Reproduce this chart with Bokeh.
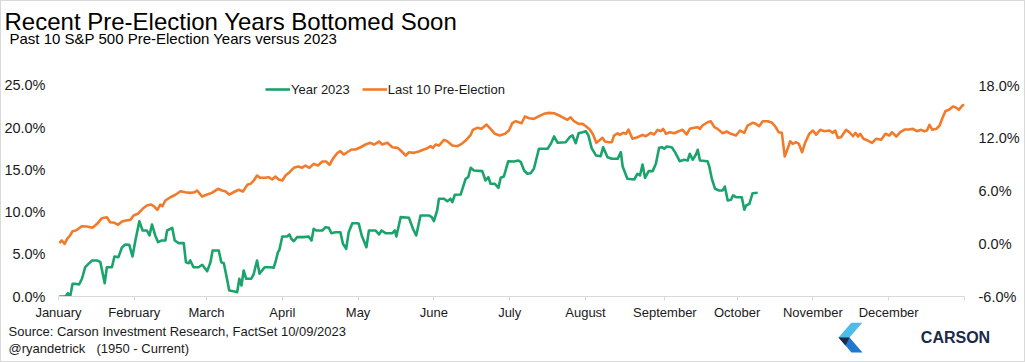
from bokeh.plotting import figure
from bokeh.layouts import column
from bokeh.models import (Range1d, LinearAxis, FixedTicker, PrintfTickFormatter,
                          Legend, LegendItem, Label)
from bokeh.embed import file_html
from bokeh.resources import INLINE

# ---------------- data ----------------
months = ["January", "February", "March", "April", "May", "June", "July",
          "August", "September", "October", "November", "December"]
month_start_day = [0, 21, 41, 62, 83, 104, 125, 146, 168, 188, 209, 230]
year_end_day = 251
left_ticks = [0, 5, 10, 15, 20, 25]
right_ticks = [-6, 0, 6, 12, 18]

# Year 2023 (left axis, %), x = trading day of year
y2023_day = [0.2, 1.9, 2.6, 3.2, 3.9, 4.6, 5.7, 6.5, 7.4, 8.3, 9.3, 10.7, 11.6, 12.8, 13.4, 14.8,
             15.5, 16.6, 17.6, 18.5, 19.6, 20.5, 21.3, 22.4, 23.3, 24.5, 25.2, 25.9, 26.8, 27.6,
             28.5, 29.6, 30.1, 31.5, 32.2, 33.3, 34.7, 35.3, 36.1, 36.5, 37.4, 38.8, 39.8, 41.2,
             42.1, 42.7, 44.4, 45.1, 45.8, 46.4, 47.3, 48.5, 49.5, 50.1, 50.7, 51.3, 52.0, 53.4,
             54.1, 55.0, 55.7, 56.4, 57.1, 58.7, 59.6, 60.1, 60.8, 61.2, 62.0, 63.3, 64.0, 64.5,
             65.2, 66.1, 67.9, 69.3, 70.1, 70.7, 71.4, 73.1, 74.0, 74.9, 75.6, 76.7, 78.1, 78.8,
             79.7, 80.4, 81.4, 82.8, 83.2, 84.0, 85.3, 86.0, 87.8, 88.8, 89.5, 90.6, 92.5, 93.2,
             93.6, 94.8, 97.1, 98.2, 99.1, 100.3, 102.6, 103.4, 104.0, 104.9, 105.4, 106.8, 107.7,
             108.6, 109.1, 109.8, 111.4, 112.0, 112.8, 113.5, 114.2, 115.1, 117.4, 118.3, 119.1,
             119.7, 120.9, 121.9, 122.5, 123.4, 124.6, 126.2, 127.4, 128.1, 129.0, 129.9, 130.8,
             131.7, 133.1, 135.5, 136.4, 137.3, 138.3, 140.5, 141.6, 142.4, 143.3, 144.1, 145.2,
             146.1, 146.8, 147.7, 148.9, 150.2, 150.9, 152.1, 153.3, 154.9, 155.8, 156.3, 157.6,
             159.5, 160.4, 161.1, 161.8, 162.5, 163.5, 164.6, 165.5, 166.4, 167.2, 167.8, 168.5,
             169.9, 170.8, 172.1, 173.3, 174.3, 174.9, 175.7, 176.6, 177.1, 177.7, 179.8, 180.3,
             181.0, 181.9, 183.0, 184.0, 184.6, 185.4, 186.3, 186.9, 187.7, 189.3, 190.0, 190.5,
             191.4, 192.3, 193.7]
y2023_pct = [0.00, 0.00, 0.39, -0.08, 1.50, 1.50, 1.42, 2.10, 3.47, 3.87, 4.27, 4.27, 4.06, 1.58,
             3.47, 3.47, 4.74, 4.66, 5.84, 6.16, 6.13, 4.74, 6.63, 8.92, 7.82, 7.82, 7.23, 8.53,
             7.23, 6.43, 6.63, 6.63, 7.82, 8.14, 6.63, 6.32, 6.32, 4.06, 3.95, 4.27, 3.47, 3.47,
             3.76, 3.00, 4.06, 5.45, 5.45, 4.06, 3.95, 2.69, 0.71, 0.63, 0.51, 2.10, 1.30, 3.08,
             2.10, 2.10, 2.69, 4.27, 2.69, 3.08, 3.47, 3.47, 3.40, 4.06, 5.25, 5.53, 7.11, 7.11,
             7.35, 6.84, 6.55, 7.03, 7.03, 7.11, 6.63, 8.02, 7.82, 7.82, 8.21, 8.14, 7.50, 7.62,
             7.62, 6.24, 5.65, 7.62, 8.68, 8.68, 8.61, 7.23, 5.84, 7.82, 7.82, 7.35, 7.82, 7.50,
             7.50, 7.82, 7.11, 9.40, 9.32, 8.02, 7.23, 9.60, 9.60, 9.40, 8.92, 10.19, 11.58, 11.58,
             11.29, 11.58, 11.17, 12.05, 12.08, 12.88, 13.95, 14.13, 15.25, 14.93, 14.85, 13.74,
             14.13, 13.35, 13.35, 12.88, 14.06, 14.22, 16.03, 15.99, 16.11, 15.91, 14.93, 14.54,
             14.61, 15.13, 17.50, 17.50, 18.09, 18.96, 18.21, 18.28, 18.87, 19.08, 18.16, 19.35,
             19.47, 19.58, 19.08, 17.57, 16.71, 16.62, 17.69, 16.50, 16.31, 16.31, 17.10, 15.40,
             13.95, 13.86, 14.54, 14.34, 15.64, 14.06, 14.85, 14.85, 15.72, 17.62, 17.69, 17.50,
             17.77, 17.69, 17.10, 16.03, 16.20, 16.11, 16.91, 16.20, 16.82, 17.38, 16.11, 16.03,
             15.40, 13.95, 12.76, 12.56, 12.56, 13.03, 11.37, 11.46, 11.97, 11.76, 11.76, 10.27,
             10.78, 10.98, 12.24, 12.29]

# Last 10 pre-election years average (right axis, %)
pre_day = [0.2, 0.9, 1.7, 2.4, 3.2, 3.9, 4.8, 5.5, 6.5, 7.9, 9.4, 10.7, 12.0, 13.4, 14.3, 15.5,
           16.5, 17.6, 18.7, 19.9, 20.8, 22.0, 23.3, 24.5, 25.7, 26.5, 27.4, 28.2, 28.8, 29.6,
           31.0, 32.4, 33.8, 35.1, 36.5, 37.7, 38.4, 39.8, 41.2, 42.5, 44.2, 45.3, 46.2, 47.3,
           48.5, 49.9, 51.1, 52.3, 53.2, 54.1, 55.0, 55.9, 57.1, 58.2, 59.2, 60.1, 61.0, 62.0,
           62.9, 64.0, 65.2, 66.4, 67.5, 68.4, 69.5, 70.7, 71.9, 73.1, 74.2, 75.1, 76.0, 77.2,
           78.1, 79.0, 80.0, 81.2, 82.3, 83.7, 85.1, 86.4, 87.4, 88.8, 89.7, 91.1, 92.5, 93.9,
           94.8, 96.2, 97.1, 98.5, 99.8, 101.2, 102.2, 103.1, 103.7, 104.5, 105.4, 106.8, 107.7,
           109.1, 110.5, 111.7, 112.8, 114.2, 114.8, 116.0, 117.2, 118.6, 119.7, 120.9, 122.2,
           123.7, 124.8, 125.7, 126.7, 128.3, 129.2, 130.4, 131.7, 133.1, 134.5, 135.9, 137.3,
           138.7, 140.1, 141.0, 141.9, 142.8, 144.1, 145.2, 146.1, 147.2, 148.1, 149.0, 149.8,
           150.7, 151.4, 152.4, 153.3, 153.9, 154.9, 155.5, 156.4, 157.2, 157.9, 159.0, 160.4,
           161.8, 162.7, 164.1, 165.0, 166.0, 166.9, 167.5, 168.3, 169.4, 170.6, 171.8, 172.9,
           174.0, 174.9, 176.1, 177.1, 177.7, 178.4, 179.8, 180.7, 181.7, 182.6, 184.0, 185.1,
           186.3, 187.7, 188.8, 190.0, 190.9, 192.3, 193.2, 194.1, 195.1, 196.5, 197.7, 198.6,
           199.5, 200.4, 201.2, 202.0, 202.7, 203.4, 204.3, 205.1, 206.0, 206.9, 208.0, 209.0,
           209.9, 211.0, 212.2, 213.6, 214.5, 215.2, 215.9, 216.8, 218.2, 219.1, 220.1, 220.8,
           221.5, 222.1, 223.0, 224.2, 225.4, 226.5, 227.9, 229.1, 230.2, 230.9, 232.1, 233.2,
           234.4, 235.6, 236.7, 237.8, 239.0, 239.9, 240.6, 241.3, 242.1, 243.2, 244.1, 244.8,
           245.7, 246.8, 247.8, 248.5, 249.4, 250.4, 251.0]
pre_pct = [0.06, 0.37, -0.01, 0.56, 0.94, 1.43, 1.51, 1.70, 2.00, 1.96, 1.81, 2.27, 2.91, 3.02,
           2.45, 2.38, 2.16, 2.53, 2.64, 2.72, 3.21, 3.41, 3.98, 4.35, 4.46, 4.24, 3.86, 4.46,
           4.27, 4.92, 5.29, 5.57, 5.98, 5.86, 5.79, 5.86, 6.06, 5.37, 5.60, 5.79, 6.25, 6.06,
           5.98, 5.60, 5.86, 6.14, 5.94, 6.70, 6.82, 7.19, 7.76, 7.50, 7.50, 7.57, 7.31, 7.65,
           7.31, 7.19, 7.76, 8.14, 8.64, 8.79, 8.64, 8.90, 8.64, 9.09, 8.90, 9.35, 9.35, 8.98,
           9.66, 10.30, 10.53, 10.15, 10.41, 10.72, 10.72, 10.98, 11.29, 11.48, 11.29, 11.63,
           11.29, 11.48, 10.98, 10.91, 10.61, 10.04, 10.41, 10.34, 10.49, 10.72, 10.87, 11.10,
           10.91, 11.29, 11.17, 11.82, 11.66, 11.17, 11.10, 11.37, 11.74, 12.39, 12.96, 13.19,
           13.07, 13.56, 13.07, 12.51, 12.31, 12.51, 12.88, 13.71, 13.94, 13.71, 14.47, 14.28,
           14.21, 14.51, 14.78, 14.89, 14.85, 14.59, 14.28, 14.10, 14.39, 13.94, 13.64, 13.64,
           13.37, 12.99, 12.43, 11.48, 11.74, 12.05, 11.63, 11.55, 11.55, 12.31, 12.57, 12.39,
           12.62, 12.51, 12.99, 11.94, 12.12, 12.39, 12.23, 12.62, 12.43, 12.96, 12.80, 13.07,
           12.51, 12.69, 12.57, 12.80, 12.96, 12.43, 13.07, 13.19, 13.26, 13.07, 13.45, 13.82,
           13.94, 13.26, 13.07, 12.57, 12.77, 12.51, 12.31, 12.88, 12.62, 13.45, 13.76, 13.64,
           13.37, 13.94, 13.94, 13.76, 13.34, 12.69, 12.62, 9.92, 10.80, 11.66, 11.37, 11.55,
           11.37, 10.41, 11.55, 12.51, 12.88, 12.40, 12.96, 12.80, 12.88, 12.62, 12.88, 12.05,
           12.12, 12.96, 12.69, 12.23, 12.62, 12.20, 12.51, 11.94, 11.74, 11.48, 11.94, 11.82,
           12.51, 12.31, 12.69, 12.20, 12.69, 12.99, 12.99, 13.07, 12.80, 12.96, 12.80, 12.88,
           13.53, 12.96, 13.07, 13.45, 14.21, 15.08, 15.27, 15.61, 15.53, 15.24, 15.72, 15.80]

GREEN = "#1ba36c"
ORANGE = "#f27b2b"
TEXT = "#1a1a1a"
FONT = "Liberation Sans"
W = 1023          # inner width (a 1px light border surrounds the whole chart)


def blank_figure(h):
    f = figure(width=W, height=h, output_backend="svg", toolbar_location=None,
               x_range=Range1d(0, W), y_range=Range1d(0, h),
               x_axis_type=None, y_axis_type=None, min_border=0, frame_align=False,
               outline_line_color=None, background_fill_color="white",
               border_fill_color="white")
    f.xgrid.visible = False
    f.ygrid.visible = False
    return f


def add_text(f, text, x, y, size, color=TEXT, style="normal", align="left"):
    f.add_layout(Label(x=x, y=y, text=text, text_font=FONT, text_font_size=size,
                       text_color=color, text_font_style=style, text_align=align,
                       text_baseline="middle"))


# ---------------- header (titles) ----------------
HEAD_H = 59
head = blank_figure(HEAD_H)
add_text(head, "Recent Pre-Election Years Bottomed Soon", 3, 39, "24px", color="#000000")
add_text(head, "Past 10 S&P 500 Pre-Election Years versus 2023", 8, 22.5, "15px",
         color="#000000")

# ---------------- main chart ----------------
# frame spans 75..296 px; the extra 10 px above the top tick keep the legend inside the frame
p = figure(width=W, height=262, output_backend="svg", toolbar_location=None, title=None,
           x_range=Range1d(0, year_end_day), y_range=Range1d(0, 26.18), frame_align=False,
           min_border_left=57, min_border_right=60, min_border_top=15, min_border_bottom=26,
           background_fill_color="white", border_fill_color="white", outline_line_color=None)
p.extra_y_ranges = {"right": Range1d(-6, 19.14)}
p.xgrid.visible = False
p.ygrid.visible = False

g = p.line(y2023_day, y2023_pct, line_color=GREEN, line_width=2.6, line_join="round")
o = p.line(pre_day, pre_pct, line_color=ORANGE, line_width=2.6, line_join="round",
           y_range_name="right")

xa = p.xaxis[0]
xa.ticker = FixedTicker(ticks=month_start_day, minor_ticks=[year_end_day])
xa.major_label_overrides = {d: m for d, m in zip(month_start_day, months)}
xa.axis_line_color = "#d9d9d9"
xa.major_tick_line_color = "#d9d9d9"
xa.minor_tick_line_color = "#d9d9d9"
xa.major_tick_in = 0
xa.major_tick_out = 4
xa.minor_tick_in = 0
xa.minor_tick_out = 4
xa.major_label_text_font = FONT
xa.major_label_text_font_size = "13px"
xa.major_label_text_color = TEXT
xa.major_label_standoff = 4

ya = p.yaxis[0]
ya.ticker = FixedTicker(ticks=left_ticks)
ya.formatter = PrintfTickFormatter(format="%.1f%%")
ya.axis_line_color = None
ya.major_tick_line_color = None
ya.minor_tick_line_color = None
ya.major_tick_out = 0
ya.minor_tick_out = 0
ya.major_label_text_font = FONT
ya.major_label_text_font_size = "14.5px"
ya.major_label_text_color = TEXT
ya.major_label_standoff = 13

ra = LinearAxis(y_range_name="right", ticker=FixedTicker(ticks=right_ticks),
                formatter=PrintfTickFormatter(format="%.1f%%"))
ra.axis_line_color = None
ra.major_tick_line_color = None
ra.minor_tick_line_color = None
ra.major_tick_out = 0
ra.minor_tick_out = 0
ra.major_label_text_font = FONT
ra.major_label_text_font_size = "14.5px"
ra.major_label_text_color = TEXT
ra.major_label_standoff = 14
p.add_layout(ra, "right")

legend = Legend(items=[LegendItem(label="Year 2023", renderers=[g]),
                       LegendItem(label="Last 10 Pre-Election", renderers=[o])],
                orientation="horizontal", location=(207, 199),
                border_line_color=None, background_fill_alpha=0,
                label_text_font=FONT, label_text_font_size="13px", label_text_color=TEXT,
                glyph_width=25, glyph_height=16, label_height=16, label_standoff=1,
                spacing=12, padding=0, margin=0)
p.add_layout(legend)

# ---------------- footer (source + logo) ----------------
FOOT_H = 39
foot = blank_figure(FOOT_H)
add_text(foot, "Source: Carson Investment Research, FactSet 10/09/2023", 7, 30, "13px")
add_text(foot, "@ryandetrick", 7, 13, "13px")
add_text(foot, "(1950 - Current)", 95, 13, "13px")
add_text(foot, "CARSON", 954, 24, "16px", color="#1b2a47", style="bold", align="center")

# logo chevron
foot.patch([850, 861, 848, 837], [39, 39, 24, 24], fill_color="#4cbde9", line_color=None)
foot.patch([837, 848, 861, 850], [24, 24, 9, 9], fill_color="#2179cf", line_color=None)
foot.patch([837, 848, 844], [24, 24, 16], fill_color="#1b2a47", line_color=None)

layout = column(head, p, foot, spacing=0,
                styles={"border": "1px solid #d9d9d9", "background-color": "white"})
open("out.html", "w").write(file_html(layout, INLINE))
